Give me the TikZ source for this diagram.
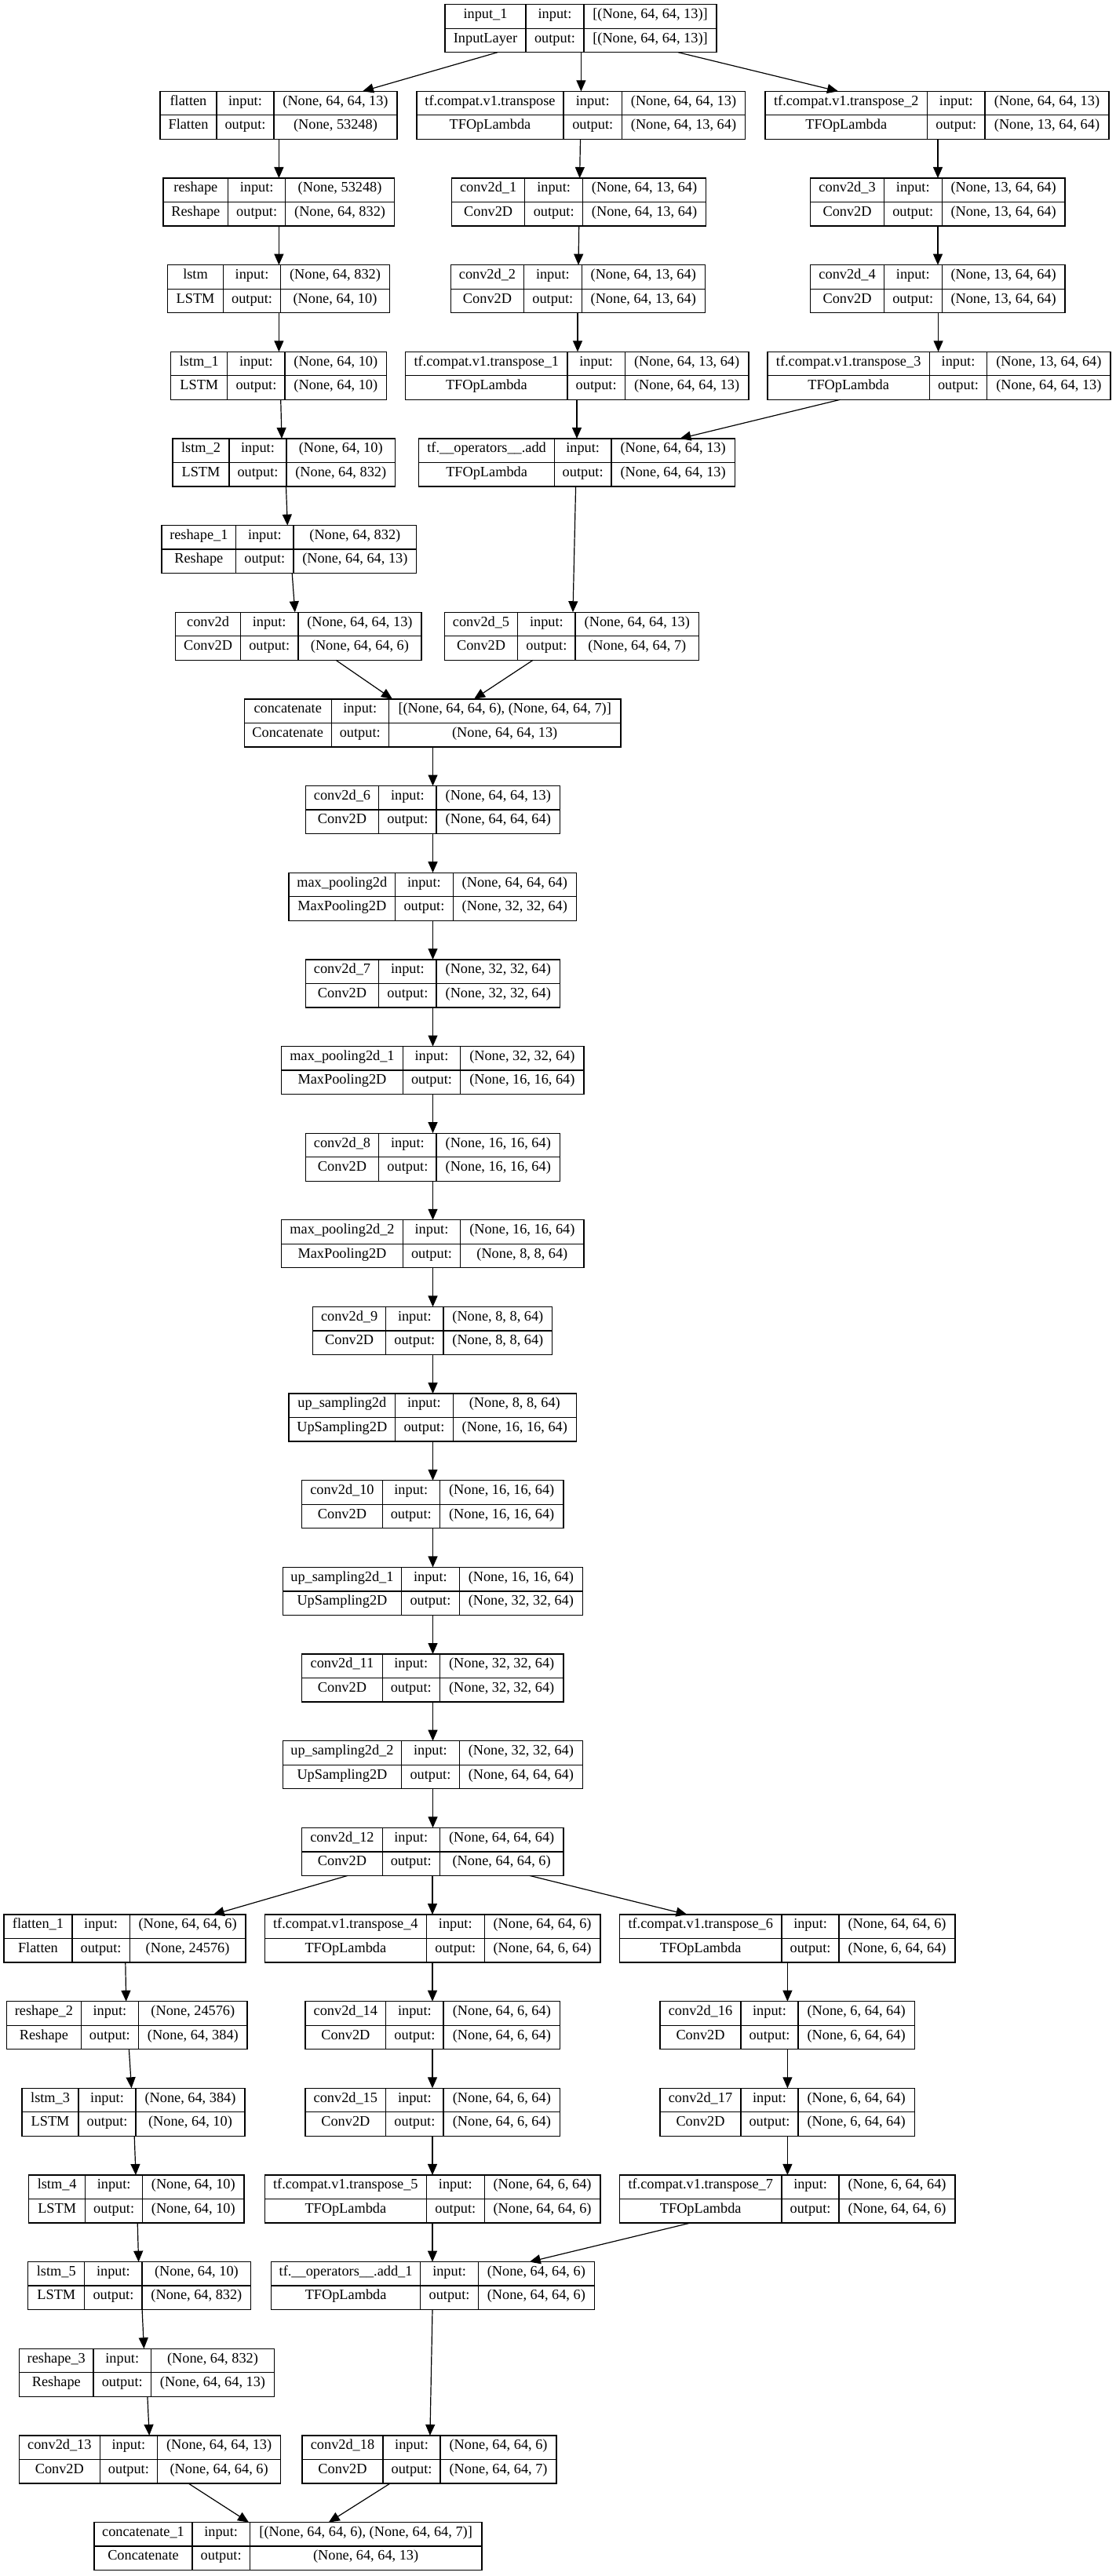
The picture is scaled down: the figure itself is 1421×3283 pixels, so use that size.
\documentclass[tikz,border=0pt]{standalone}
\usepackage{fontspec}
\setmainfont{Liberation Serif}
\usetikzlibrary{arrows.meta}

% split "a,b,c,d" into the four column edges of a layer table
\def\getcols#1,#2,#3,#4\relax{\def\xa{#1}\def\xb{#2}\def\xc{#3}\def\xd{#4}}

% one Keras layer: name, row, column edges, layer name, class, input, output
\newcommand\lyr[7]{%
  \getcols#3\relax
  \pgfmathsetmacro\yt{5.7+110.65*#2}%
  \pgfmathsetmacro\ym{\yt+30.5}%
  \pgfmathsetmacro\yb{\yt+61}%
  \pgfmathsetmacro\bw{\xd-\xa}%
  \pgfmathsetmacro\ca{(\xa+\xb)/2}%
  \pgfmathsetmacro\cb{(\xb+\xc)/2}%
  \pgfmathsetmacro\cc{(\xc+\xd)/2}%
  \node[layer, minimum width=\bw pt, anchor=north west] (#1) at (\xa,\yt) {};
  \draw[cell] (\xa,\ym) -- (\xd,\ym) (\xb,\yt) -- (\xb,\yb) (\xc,\yt) -- (\xc,\yb);
  \node[txt] at (\ca,\yt+15.25) {#4};
  \node[txt] at (\ca,\ym+15.25) {#5};
  \node[txt] at (\cb,\yt+15.25) {input:};
  \node[txt] at (\cb,\ym+15.25) {output:};
  \node[txt] at (\cc,\yt+15.25) {#6};
  \node[txt] at (\cc,\ym+15.25) {#7};
}

% connector from the bottom of one layer to the top of the next
\newcommand\conn[4]{\draw[arr] (#1.south -| #2,0) -- (#3.north -| #4,0);}

\begin{document}
\begin{tikzpicture}[x=1pt,y=-1pt,
  layer/.style={draw=black, line width=1.3pt, minimum height=61pt, inner sep=0pt, outer sep=0pt},
  cell/.style={draw=black, line width=1.3pt},
  txt/.style={inner sep=0pt, font=\fontsize{18.3}{22}\selectfont, text height=0.72em, text depth=0.2em, anchor=center},
  arr/.style={draw=black, line width=1.2pt, -{Triangle[length=14pt,width=12pt]}}]
\useasboundingbox[fill=white] (0,0) rectangle (1421,3283);

% encoder branches
\lyr{in1}{0}{567,670,744,913}{input\_1}{InputLayer}{[(None, 64, 64, 13)]}{[(None, 64, 64, 13)]}
\lyr{flat}{1}{204,276,349,506}{flatten}{Flatten}{(None, 64, 64, 13)}{(None, 53248)}
\lyr{trp}{1}{531,718,792.5,949.5}{tf.compat.v1.transpose}{TFOpLambda}{(None, 64, 64, 13)}{(None, 64, 13, 64)}
\lyr{trpB}{1}{975,1181.6,1255,1413}{tf.compat.v1.transpose\_2}{TFOpLambda}{(None, 64, 64, 13)}{(None, 13, 64, 64)}
\lyr{resh}{2}{208,290.7,363.6,502.6}{reshape}{Reshape}{(None, 53248)}{(None, 64, 832)}
\lyr{cA}{2}{575.5,668.8,742.6,899.5}{conv2d\_1}{Conv2D}{(None, 64, 13, 64)}{(None, 64, 13, 64)}
\lyr{cC}{2}{1032.8,1126.3,1200.2,1357}{conv2d\_3}{Conv2D}{(None, 13, 64, 64)}{(None, 13, 64, 64)}
\lyr{lstm}{3}{213.7,284.4,357.7,496.3}{lstm}{LSTM}{(None, 64, 832)}{(None, 64, 10)}
\lyr{cB}{3}{574.6,667.4,741.3,898.2}{conv2d\_2}{Conv2D}{(None, 64, 13, 64)}{(None, 64, 13, 64)}
\lyr{cD}{3}{1032.8,1126.3,1200.2,1357}{conv2d\_4}{Conv2D}{(None, 13, 64, 64)}{(None, 13, 64, 64)}
\lyr{lstmA}{4}{217.8,289.8,363.1,492.6}{lstm\_1}{LSTM}{(None, 64, 10)}{(None, 64, 10)}
\lyr{trpA}{4}{516.6,723.1,796.2,954}{tf.compat.v1.transpose\_1}{TFOpLambda}{(None, 64, 13, 64)}{(None, 64, 64, 13)}
\lyr{trpC}{4}{978,1184.3,1257.7,1415}{tf.compat.v1.transpose\_3}{TFOpLambda}{(None, 13, 64, 64)}{(None, 64, 64, 13)}
\lyr{lstmB}{5}{220,292,365,503.5}{lstm\_2}{LSTM}{(None, 64, 10)}{(None, 64, 832)}
\lyr{add}{5}{533.8,706.4,778.9,936.3}{tf.\_\_operators\_\_.add}{TFOpLambda}{(None, 64, 64, 13)}{(None, 64, 64, 13)}
\lyr{reshA}{6}{206,300.7,374,530.7}{reshape\_1}{Reshape}{(None, 64, 832)}{(None, 64, 64, 13)}
\lyr{cv}{7}{223.7,306.5,379.9,537}{conv2d}{Conv2D}{(None, 64, 64, 13)}{(None, 64, 64, 6)}
\lyr{cE}{7}{566.4,659.7,733.1,890.5}{conv2d\_5}{Conv2D}{(None, 64, 64, 13)}{(None, 64, 64, 7)}
\lyr{cat}{8}{311.2,422.2,495.3,791.1}{concatenate}{Concatenate}{[(None, 64, 64, 6), (None, 64, 64, 7)]}{(None, 64, 64, 13)}

% central trunk
\lyr{cF}{9}{389.3,482.7,556.1,713.4}{conv2d\_6}{Conv2D}{(None, 64, 64, 13)}{(None, 64, 64, 64)}
\lyr{mp}{10}{367.9,503.7,577.2,734.4}{max\_pooling2d}{MaxPooling2D}{(None, 64, 64, 64)}{(None, 32, 32, 64)}
\lyr{cG}{11}{389.3,482.7,556.1,713.4}{conv2d\_7}{Conv2D}{(None, 32, 32, 64)}{(None, 32, 32, 64)}
\lyr{mpA}{12}{358.7,513.3,586.7,744}{max\_pooling2d\_1}{MaxPooling2D}{(None, 32, 32, 64)}{(None, 16, 16, 64)}
\lyr{cH}{13}{389.3,482.7,556.1,713.4}{conv2d\_8}{Conv2D}{(None, 16, 16, 64)}{(None, 16, 16, 64)}
\lyr{mpB}{14}{358.7,513.3,586.7,744}{max\_pooling2d\_2}{MaxPooling2D}{(None, 16, 16, 64)}{(None, 8, 8, 64)}
\lyr{cI}{15}{398.5,491.8,564.9,703.8}{conv2d\_9}{Conv2D}{(None, 8, 8, 64)}{(None, 8, 8, 64)}
\lyr{up}{16}{367.9,503.7,577.2,734.4}{up\_sampling2d}{UpSampling2D}{(None, 8, 8, 64)}{(None, 16, 16, 64)}
\lyr{cJ}{17}{384.7,487.2,560.3,718}{conv2d\_10}{Conv2D}{(None, 16, 16, 64)}{(None, 16, 16, 64)}
\lyr{upA}{18}{360.2,511.7,585.2,742.5}{up\_sampling2d\_1}{UpSampling2D}{(None, 16, 16, 64)}{(None, 32, 32, 64)}
\lyr{cK}{19}{384.7,487.2,560.3,718}{conv2d\_11}{Conv2D}{(None, 32, 32, 64)}{(None, 32, 32, 64)}
\lyr{upB}{20}{360.2,511.7,585.2,742.5}{up\_sampling2d\_2}{UpSampling2D}{(None, 32, 32, 64)}{(None, 64, 64, 64)}
\lyr{cL}{21}{384.7,487.2,560.3,718}{conv2d\_12}{Conv2D}{(None, 64, 64, 64)}{(None, 64, 64, 6)}

% decoder branches
\lyr{flatA}{22}{5,91.9,165.3,312.9}{flatten\_1}{Flatten}{(None, 64, 64, 6)}{(None, 24576)}
\lyr{trpD}{22}{337.3,543.4,617.2,764.9}{tf.compat.v1.transpose\_4}{TFOpLambda}{(None, 64, 64, 6)}{(None, 64, 6, 64)}
\lyr{trpF}{22}{789.4,996.1,1069.1,1216.9}{tf.compat.v1.transpose\_6}{TFOpLambda}{(None, 64, 64, 6)}{(None, 6, 64, 64)}
\lyr{reshB}{23}{8.6,103.2,176.6,315.1}{reshape\_2}{Reshape}{(None, 24576)}{(None, 64, 384)}
\lyr{cN}{23}{389,491.7,565.1,713.6}{conv2d\_14}{Conv2D}{(None, 64, 6, 64)}{(None, 64, 6, 64)}
\lyr{cP}{23}{841,944,1017,1165.2}{conv2d\_16}{Conv2D}{(None, 6, 64, 64)}{(None, 6, 64, 64)}
\lyr{lstmC}{24}{28.1,100.1,173,312}{lstm\_3}{LSTM}{(None, 64, 384)}{(None, 64, 10)}
\lyr{cO}{24}{389,491.7,565.1,713.6}{conv2d\_15}{Conv2D}{(None, 64, 6, 64)}{(None, 64, 6, 64)}
\lyr{cQ}{24}{841,944,1017,1165.2}{conv2d\_17}{Conv2D}{(None, 6, 64, 64)}{(None, 6, 64, 64)}
\lyr{lstmD}{25}{36.7,108.7,181.6,311}{lstm\_4}{LSTM}{(None, 64, 10)}{(None, 64, 10)}
\lyr{trpE}{25}{337.3,543.4,617.2,764.9}{tf.compat.v1.transpose\_5}{TFOpLambda}{(None, 64, 6, 64)}{(None, 64, 64, 6)}
\lyr{trpG}{25}{789.4,996.1,1069.1,1216.9}{tf.compat.v1.transpose\_7}{TFOpLambda}{(None, 6, 64, 64)}{(None, 64, 64, 6)}
\lyr{lstmE}{26}{35.8,107.8,181.1,319.7}{lstm\_5}{LSTM}{(None, 64, 10)}{(None, 64, 832)}
\lyr{addA}{26}{345.5,535.7,609.5,757.2}{tf.\_\_operators\_\_.add\_1}{TFOpLambda}{(None, 64, 64, 6)}{(None, 64, 64, 6)}
\lyr{reshC}{27}{24.5,119.1,192.4,349.6}{reshape\_3}{Reshape}{(None, 64, 832)}{(None, 64, 64, 13)}
\lyr{cM}{28}{24.5,127.2,200.6,357.7}{conv2d\_13}{Conv2D}{(None, 64, 64, 13)}{(None, 64, 64, 6)}
\lyr{cR}{28}{384.9,488.1,561,709.1}{conv2d\_18}{Conv2D}{(None, 64, 64, 6)}{(None, 64, 64, 7)}
\lyr{catA}{29}{120,245,318.3,614}{concatenate\_1}{Concatenate}{[(None, 64, 64, 6), (None, 64, 64, 7)]}{(None, 64, 64, 13)}

% connectors: encoder
\conn{in1}{634}{flat}{462}
\conn{in1}{740.4}{trp}{740.4}
\conn{in1}{864}{trpB}{1068}
\conn{flat}{355.4}{resh}{355.4}
\conn{resh}{355.4}{lstm}{355.4}
\conn{lstm}{355.4}{lstmA}{355.4}
\conn{lstmA}{357.7}{lstmB}{359}
\conn{lstmB}{364.5}{reshA}{366.3}
\conn{reshA}{372.2}{cv}{375.8}
\conn{trp}{739.5}{cA}{738.6}
\conn{cA}{737.7}{cB}{737}
\conn{cB}{736}{trpA}{736}
\conn{trpA}{735}{add}{735}
\conn{add}{733.6}{cE}{730}
\conn{trpB}{1195}{cC}{1195}
\conn{cC}{1195}{cD}{1195}
\conn{cD}{1195.6}{trpC}{1195.6}
\conn{trpC}{1070.5}{add}{866.4}
\conn{cv}{427.9}{cat}{500}
\conn{cE}{679.2}{cat}{604}

% connectors: trunk
\conn{cat}{551.5}{cF}{551.5}
\conn{cF}{551.5}{mp}{551.5}
\conn{mp}{551.5}{cG}{551.5}
\conn{cG}{551.5}{mpA}{551.5}
\conn{mpA}{551.5}{cH}{551.5}
\conn{cH}{551.5}{mpB}{551.5}
\conn{mpB}{551.5}{cI}{551.5}
\conn{cI}{551.5}{up}{551.5}
\conn{up}{551.5}{cJ}{551.5}
\conn{cJ}{551.5}{upA}{551.5}
\conn{upA}{551.5}{cK}{551.5}
\conn{cK}{551.5}{upB}{551.5}
\conn{upB}{551.5}{cL}{551.5}

% connectors: decoder
\conn{cL}{443}{flatA}{271.7}
\conn{cL}{551}{trpD}{551}
\conn{cL}{674.7}{trpF}{875.5}
\conn{flatA}{159.8}{reshB}{160.7}
\conn{reshB}{164.4}{lstmC}{167.5}
\conn{lstmC}{171.2}{lstmD}{173}
\conn{lstmD}{175.2}{lstmE}{176.6}
\conn{lstmE}{181.1}{reshC}{183.4}
\conn{reshC}{187.9}{cM}{190.2}
\conn{trpD}{551}{cN}{551}
\conn{cN}{551}{cO}{551}
\conn{cO}{551}{trpE}{551}
\conn{trpE}{551}{addA}{551}
\conn{trpF}{1003.4}{cP}{1003.4}
\conn{cP}{1003.4}{cQ}{1003.4}
\conn{cQ}{1003.4}{trpG}{1003.4}
\conn{trpG}{880}{addA}{674.7}
\conn{addA}{551}{cR}{547.9}
\conn{cM}{240}{catA}{317}
\conn{cR}{497.2}{catA}{418.8}
\end{tikzpicture}
\end{document}
